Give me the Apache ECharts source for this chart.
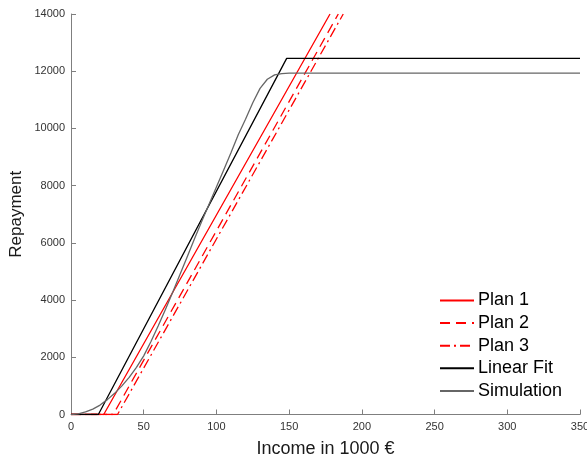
<!DOCTYPE html>
<html>
<head>
<meta charset="utf-8">
<script src="https://cdn.jsdelivr.net/npm/echarts@6/dist/echarts.min.js"></script>
<style>
  html, body { margin: 0; padding: 0; background: #fff; }
  #chart { width: 587px; height: 457px; }
</style>
</head>
<body>
<div id="chart"></div>
<script>
// Income axis in thousands of euro, repayment in euro.
const xTicks = [0, 50, 100, 150, 200, 250, 300, 350];
const yTicks = [0, 2000, 4000, 6000, 8000, 10000, 12000, 14000];

// Repayment plans: zero below the threshold, then a straight rise (cut off at the top of the plot).
const plan1 = [[0, 0], [22.5, 0], [178.1, 14000]];
const plan2 = [[0, 0], [29, 0], [183.8, 14000]];
const plan3 = [[0, 0], [32, 0], [187.2, 14000]];

// Piecewise linear fit with a cap.
const linearFit = [[0, 0], [18.8, 0], [148.3, 12450], [350, 12450]];

// Simulated repayment curve.
const simIncome = [0, 5, 10, 15, 20, 25, 30, 35, 40, 45, 50, 55, 60, 65, 70, 75, 80, 85, 90, 95,
  100, 105, 110, 115, 120, 125, 130, 135, 140, 145, 150, 200, 250, 300, 350];
const simRepay = [0, 25, 90, 190, 330, 520, 740, 1000, 1300, 1650, 2050, 2550, 3100, 3680, 4280, 4900,
  5520, 6150, 6760, 7360, 7950, 8550, 9150, 9780, 10320, 10900, 11400, 11720, 11870, 11915, 11930,
  11930, 11930, 11930, 11930];
const simulation = simIncome.map((x, i) => [x, simRepay[i]]);

const FONT = '"Liberation Sans", Arial, Helvetica, sans-serif';
const axisGray = '#7f7f7f';

const chart = echarts.init(document.getElementById('chart'), null, { renderer: 'canvas' });

function lineSeries(name, data, color, type, width) {
  return {
    name: name,
    type: 'line',
    data: data,
    symbol: 'none',
    showSymbol: false,
    clip: true,
    silent: true,
    animation: false,
    lineStyle: { color: color, width: width, type: type },
    itemStyle: { color: color }
  };
}

chart.setOption({
  animation: false,
  backgroundColor: '#ffffff',
  textStyle: { fontFamily: FONT },
  grid: { left: 71, right: 7, top: 14, bottom: 42.5, containLabel: false, outerBoundsMode: 'none' },
  xAxis: {
    type: 'value',
    min: xTicks[0],
    max: xTicks[xTicks.length - 1],
    interval: 50,
    name: 'Income in 1000 €',
    nameLocation: 'middle',
    nameGap: 26,
    nameTextStyle: { fontSize: 18, color: '#1a1a1a', fontFamily: FONT },
    axisLine: { show: true, lineStyle: { color: axisGray, width: 1 } },
    axisTick: { show: true, inside: true, length: 5, lineStyle: { color: axisGray } },
    axisLabel: { fontSize: 11, color: '#333333', margin: 7, fontFamily: FONT,
      formatter: v => String(v) },
    splitLine: { show: false }
  },
  yAxis: {
    type: 'value',
    min: yTicks[0],
    max: yTicks[yTicks.length - 1],
    interval: 2000,
    name: 'Repayment',
    nameLocation: 'middle',
    nameGap: 46,
    nameMoveOverlap: false,
    nameTextStyle: { fontSize: 17, color: '#1a1a1a', fontFamily: FONT },
    axisLine: { show: true, lineStyle: { color: axisGray, width: 1 } },
    axisTick: { show: true, inside: true, length: 5, lineStyle: { color: axisGray } },
    axisLabel: { fontSize: 11, color: '#333333', margin: 6, fontFamily: FONT,
      formatter: v => String(v) },
    splitLine: { show: false }
  },
  legend: {
    orient: 'vertical',
    left: 439,
    top: 291.5,
    padding: 0,
    itemWidth: 34,
    itemHeight: 18,
    itemGap: 4.6,
    itemStyle: { opacity: 0 },
    textStyle: { fontSize: 18, lineHeight: 18, color: '#000000', fontFamily: FONT, padding: [0, 0, 0, -1] },
    data: ['Plan 1', 'Plan 2', 'Plan 3', 'Linear Fit', 'Simulation']
  },
  series: [
    lineSeries('Plan 1', plan1, '#ff0000', 'solid', 1.3),
    lineSeries('Plan 2', plan2, '#ff0000', [10, 6], 1.3),
    lineSeries('Plan 3', plan3, '#ff0000', [10, 4, 2, 4], 1.3),
    lineSeries('Linear Fit', linearFit, '#000000', 'solid', 1.3),
    lineSeries('Simulation', simulation, '#666666', 'solid', 1.3)
  ]
});
</script>
</body>
</html>
